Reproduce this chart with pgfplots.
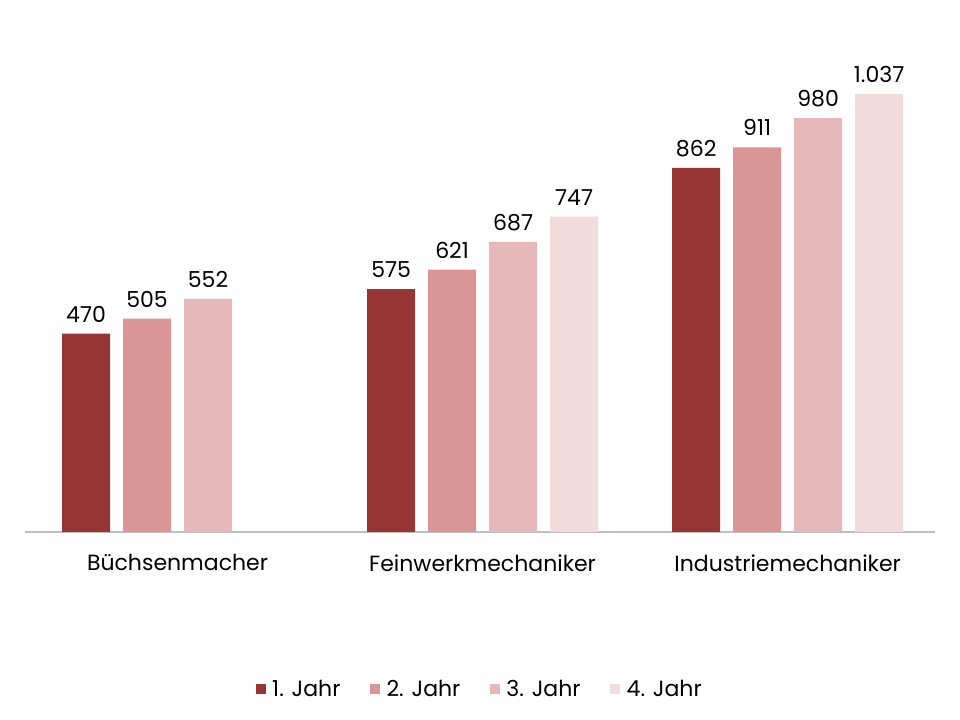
\documentclass[border=0pt]{standalone}
\usepackage{fontspec}
\setmainfont{Poppins}
\usepackage{pgfplots}
\pgfplotsset{compat=1.18}
\definecolor{c1}{HTML}{963634}
\definecolor{c2}{HTML}{DA9694}
\definecolor{c3}{HTML}{E6B8B7}
\definecolor{c4}{HTML}{F2DCDB}
\definecolor{axgray}{HTML}{BFBFBF}
\begin{document}
\begin{tikzpicture}
\path (0,0) rectangle (720pt,540pt);
\begin{axis}[
  at={(18.75pt,141pt)}, anchor=south west,
  scale only axis, width=682.5pt, height=369pt,
  ybar=9.75pt, bar width=36pt,
  xmin=-0.5, xmax=2.483, ymin=0, ymax=1165,
  axis y line=none, axis x line*=bottom,
  x axis line style={axgray, line width=1.1pt},
  xtick={0,1,2}, xticklabels={Büchsenmacher,Feinwerkmechaniker,Industriemechaniker},
  major tick length=0pt,
  xticklabel style={font=\fontsize{16.5}{19}\selectfont, yshift=-13.5pt},
  nodes near coords,
  every node near coord/.append style={font=\fontsize{16.5}{19}\selectfont, text=black, yshift=5pt},
  /pgf/number format/.cd, 1000 sep={.}, assume math mode=true,
  /pgfplots/.cd,
  legend columns=4,
  legend style={at={(0.5,-0.319)}, anchor=center, draw=none, fill=none,
    font=\fontsize{16.5}{19}\selectfont,
    /tikz/every odd column/.append style={column sep=3pt},
    /tikz/every even column/.append style={column sep=20pt}},
  legend image code/.code={\fill[#1] (0pt,-3.75pt) rectangle (7.5pt,3.75pt);},
]
\addplot[fill=c1, draw=none] coordinates {(0,470) (1,575) (2,862)};
\addplot[fill=c2, draw=none] coordinates {(0,505) (1,621) (2,911)};
\addplot[fill=c3, draw=none] coordinates {(0,552) (1,687) (2,980)};
\addplot[fill=c4, draw=none] coordinates {(1,747) (2,1037)};
\legend{1. Jahr,2. Jahr,3. Jahr,4. Jahr}
\end{axis}
\end{tikzpicture}
\end{document}
